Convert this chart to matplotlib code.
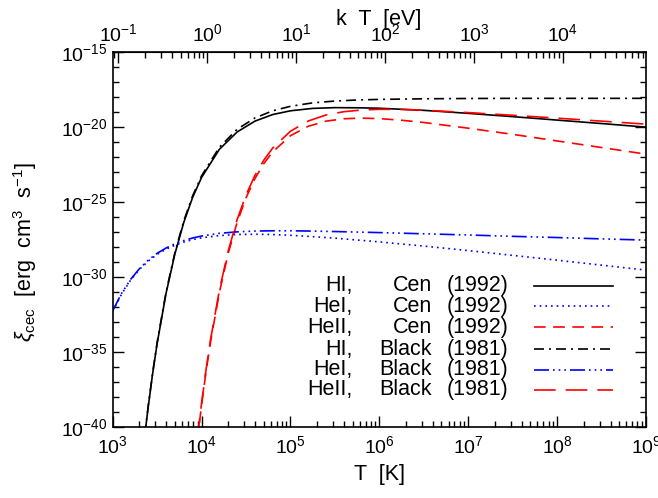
import matplotlib
matplotlib.use("Agg")
import matplotlib.pyplot as plt
import numpy as np
from matplotlib.lines import Line2D
from matplotlib.ticker import NullFormatter

plt.rcParams["font.family"] = ["Liberation Sans", "DejaVu Sans"]
plt.rcParams["mathtext.fontset"] = "custom"
plt.rcParams["mathtext.rm"] = "Liberation Sans"
plt.rcParams["mathtext.it"] = "Liberation Sans:italic"
plt.rcParams["mathtext.bf"] = "Liberation Sans:bold"

K_EV = 8.617e-5  # eV per K

# collisional excitation cooling, log10 values
LOGT_HI = [3.36, 3.4, 3.45, 3.5, 3.6, 3.7, 3.8, 3.9, 4.0, 4.2, 4.4, 4.6, 4.8,
           5.0, 5.25, 5.5, 5.75, 6.0, 6.5, 7.0, 7.5, 8.0, 8.5, 9.0]
HI_CEN = [-40.62, -38.65, -36.43, -34.45, -31.11, -28.47, -26.37, -24.70,
          -23.38, -21.51, -20.35, -19.63, -19.19, -18.94, -18.78, -18.73,
          -18.74, -18.77, -18.91, -19.11, -19.33, -19.56, -19.79, -20.03]
HI_BLACK = [-40.56, -38.59, -36.37, -34.38, -31.04, -28.38, -26.27, -24.60,
            -23.27, -21.37, -20.17, -19.42, -18.94, -18.64, -18.41, -18.29,
            -18.22, -18.18, -18.14, -18.12, -18.11, -18.11, -18.11, -18.11]

LOGT_HEI = [3.0, 3.1, 3.2, 3.3, 3.4, 3.5, 3.6, 3.7, 3.8, 3.9, 4.0, 4.2, 4.4,
            4.6, 4.8, 5.0, 5.25, 5.5, 6.0, 6.5, 7.0, 7.5, 8.0, 8.5, 9.0]
HEI_CEN = [-32.31, -31.16, -30.24, -29.52, -28.96, -28.51, -28.17, -27.90,
           -27.69, -27.53, -27.41, -27.26, -27.19, -27.17, -27.19, -27.24,
           -27.33, -27.43, -27.68, -27.96, -28.26, -28.58, -28.90, -29.23,
           -29.56]
HEI_BLACK = [-32.27, -31.11, -30.19, -29.47, -28.89, -28.44, -28.09, -27.81,
             -27.59, -27.42, -27.29, -27.11, -27.01, -26.96, -26.94, -26.94,
             -26.96, -26.99, -27.06, -27.14, -27.22, -27.31, -27.39, -27.48,
             -27.56]

LOGT_HEII = [3.95, 4.0, 4.05, 4.1, 4.2, 4.3, 4.4, 4.5, 4.6, 4.7, 4.8, 5.0,
             5.2, 5.4, 5.6, 5.8, 6.0, 6.25, 6.5, 7.0, 7.5, 8.0, 8.5, 9.0]
HEII_CEN = [-41.02, -38.53, -36.32, -34.36, -31.05, -28.43, -26.37, -24.74,
            -23.46, -22.46, -21.68, -20.60, -19.97, -19.63, -19.47, -19.43,
            -19.46, -19.57, -19.72, -20.10, -20.51, -20.95, -21.39, -21.83]
HEII_BLACK = [-40.90, -38.41, -36.20, -34.22, -30.90, -28.27, -26.19, -24.55,
              -23.25, -22.23, -21.42, -20.30, -19.62, -19.22, -19.00, -18.89,
              -18.84, -18.85, -18.90, -19.06, -19.24, -19.43, -19.63, -19.83]

NAMES = ["HI,", "HeI,", "HeII,", "HI,", "HeI,", "HeII,"]
AUTHORS = ["Cen", "Cen", "Cen", "Black", "Black", "Black"]
YEARS = ["(1992)", "(1992)", "(1992)", "(1981)", "(1981)", "(1981)"]

series = [
    (LOGT_HI, HI_CEN, "black", "-"),
    (LOGT_HEI, HEI_CEN, "#0000ff", (0, (1, 2.4))),
    (LOGT_HEII, HEII_CEN, "#ff0000", (0, (7, 4.5))),
    (LOGT_HI, HI_BLACK, "black", (0, (6, 3, 1.2, 3))),
    (LOGT_HEI, HEI_BLACK, "#0000ff", (0, (9, 2.4, 1, 2.4, 1, 2.4, 1, 2.4))),
    (LOGT_HEII, HEII_BLACK, "#ff0000", (0, (13, 6))),
]

fig = plt.figure(figsize=(6.58, 4.98), dpi=100)
ax = fig.add_axes([0.1713, 0.1432, 0.8105, 0.7530])

for logt, vals, color, ls in series:
    ax.plot(10.0 ** np.array(logt), 10.0 ** np.array(vals), color=color,
            linestyle=ls, linewidth=1.2)

ax.set_xscale("log")
ax.set_yscale("log")
ax.set_xlim(1e3, 1e9)
ax.set_ylim(1e-40, 1e-15)
ax.set_yticks(10.0 ** np.arange(-40, -14, 5))
ax.set_yticks([10.0 ** e for e in range(-40, -14) if e % 5], minor=True)
ax.yaxis.set_minor_formatter(NullFormatter())
ax.tick_params(axis="both", which="both", direction="in", right=True,
               top=False, labelsize=14, width=1.0)
ax.tick_params(which="major", length=8)
ax.tick_params(which="minor", length=4.5)
ax.tick_params(axis="x", pad=6)
ax.tick_params(axis="y", pad=4)
for sp in ax.spines.values():
    sp.set_linewidth(1.2)

# top axis in k T
sec = ax.secondary_xaxis("top", functions=(lambda t: t * K_EV,
                                           lambda e: e / K_EV))
sec.tick_params(which="both", direction="in", labelsize=14, width=1.0, pad=5)
sec.tick_params(which="major", length=8)
sec.tick_params(which="minor", length=4.5)

fig.text(379 / 658, 1 - 19 / 498, "k  T  [eV]", ha="center", va="center",
         fontsize=15.5)
fig.text(379 / 658, 1 - 474 / 498, "T  [K]", ha="center", va="center",
         fontsize=15.5)
fig.text(25 / 658, 1 - 252 / 498,
         r"$\xi_{\rm cec}$  [erg  cm$^3$  s$^{-1}$]", rotation=90,
         ha="center", va="center", fontsize=15.5)

# legend, laid out in columns like the original
row_y = [0.376, 0.321, 0.265, 0.207, 0.152, 0.098]
for i, (logt, vals, color, ls) in enumerate(series):
    y = row_y[i]
    ax.text(0.449, y, NAMES[i], transform=ax.transAxes, ha="right",
            va="center", fontsize=15.5)
    ax.text(0.598, y, AUTHORS[i], transform=ax.transAxes, ha="right",
            va="center", fontsize=15.5)
    ax.text(0.626, y, YEARS[i], transform=ax.transAxes, ha="left",
            va="center", fontsize=15.5)
    ax.add_line(Line2D([0.790, 0.938], [y, y], transform=ax.transAxes,
                       color=color, linestyle=ls, linewidth=1.2))

fig.savefig("out.png", dpi=100)
